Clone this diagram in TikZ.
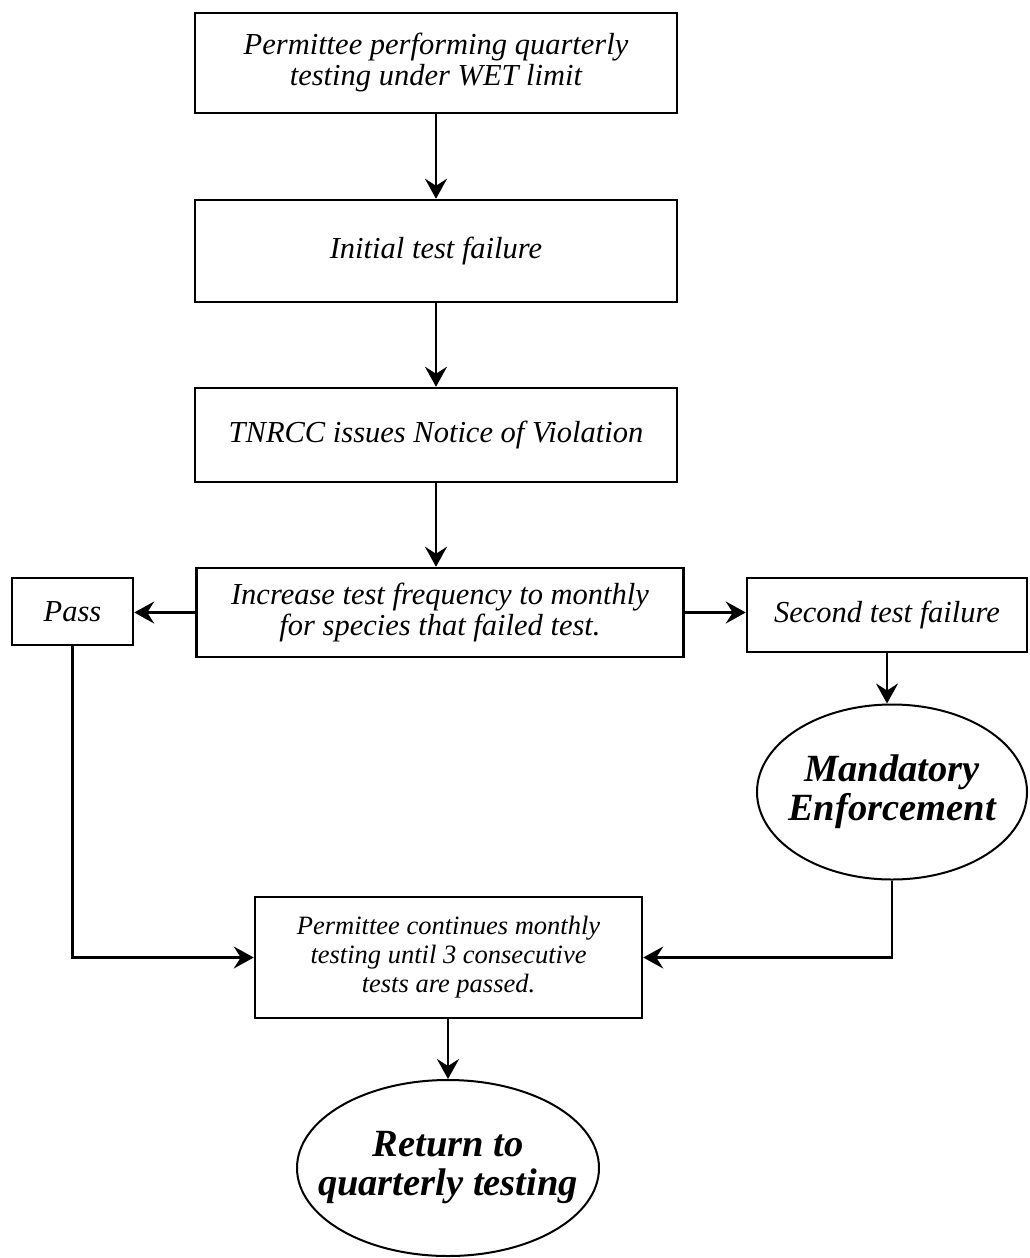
\documentclass[tikz,border=0pt]{standalone}
\usepackage{fontspec}
\setmainfont{Liberation Serif}
\usetikzlibrary{shapes.geometric,arrows.meta}

\tikzset{
	stepbox/.style={draw, line width=2.5pt, rectangle, inner sep=0pt, align=center, font=\fontsize{30.5}{31}\selectfont\itshape},
	endoval/.style={draw, line width=2pt, ellipse, inner xsep=-26pt, inner ysep=0pt, align=center, font=\fontsize{38.5}{39}\selectfont\bfseries\itshape},
	flow/.style={line width=2.5pt, -{Stealth[length=20pt,width=22pt,inset=7pt]}}
}

\begin{document}
\begin{tikzpicture}[x=1pt,y=-1pt]
	\useasboundingbox (0,0) rectangle (1029,1258);
	% main column
	\node[stepbox, minimum width=482pt, minimum height=100pt] (quarterly) at (436,63) {Permittee performing quarterly\\testing under WET limit};
	\node[stepbox, minimum width=482pt, minimum height=102pt] (initfail) at (436,251) {Initial test failure};
	\node[stepbox, minimum width=482pt, minimum height=94pt] (nov) at (436,435) {TNRCC issues Notice of Violation};
	\node[stepbox, minimum width=487pt, minimum height=89pt] (increase) at (440,612.5) {Increase test frequency to monthly\\for species that failed test.};
	% side branches
	\node[stepbox, minimum width=121pt, minimum height=67pt] (pass) at (72.5,611.5) {Pass};
	\node[stepbox, minimum width=280pt, minimum height=74pt] (secfail) at (887,615) {Second test failure};
	\node[endoval, minimum width=270pt, minimum height=175pt] (mandatory) at (892,792) {Mandatory\\Enforcement};
	\node[stepbox, minimum width=387pt, minimum height=121pt, font=\fontsize{26.5}{29}\selectfont\itshape] (continues) at (448.5,957.5) {Permittee continues monthly\\testing until 3 consecutive\\tests are passed.};
	\node[endoval, minimum width=302pt, minimum height=176pt] (return) at (448,1168) {Return to\\quarterly testing};
	% connectors
	\draw[flow] (quarterly) -- (initfail);
	\draw[flow] (initfail) -- (nov);
	\draw[flow] (nov.south) -- (nov.south |- increase.north);
	\draw[flow] (increase.west) -- (increase.west -| pass.east);
	\draw[flow] (increase.east) -- (increase.east -| secfail.west);
	\draw[flow] (secfail) -- (secfail |- mandatory.north);
	\draw[flow] (pass.south) |- (continues.west);
	\draw[flow] (mandatory.south) |- (continues.east);
	\draw[flow] (continues.south -| return.north) -- (return.north);
\end{tikzpicture}
\end{document}
